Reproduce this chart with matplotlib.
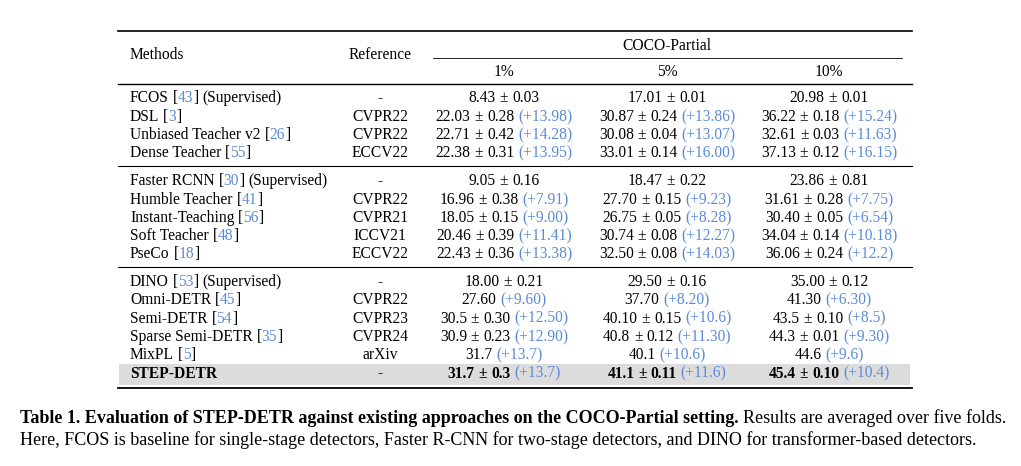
import matplotlib
matplotlib.use("Agg")
import matplotlib.pyplot as plt
from matplotlib.patches import Rectangle

# ---------------- data ----------------
methods = ["FCOS", "DSL", "Unbiased Teacher v2", "Dense Teacher",
           "Faster RCNN", "Humble Teacher", "Instant-Teaching", "Soft Teacher", "PseCo",
           "DINO", "Omni-DETR", "Semi-DETR", "Sparse Semi-DETR", "MixPL", "STEP-DETR"]
cites = ["43", "3", "26", "55",
         "30", "41", "56", "48", "18",
         "53", "45", "54", "35", "5", None]
supervised = [True, False, False, False,
              True, False, False, False, False,
              True, False, False, False, False, False]
references = ["-", "CVPR22", "CVPR22", "ECCV22",
              "-", "CVPR22", "CVPR21", "ICCV21", "ECCV22",
              "-", "CVPR22", "CVPR23", "CVPR24", "arXiv", "-"]

p1_mean = ["8.43", "22.03", "22.71", "22.38", "9.05", "16.96", "18.05", "20.46", "22.43",
           "18.00", "27.60", "30.5", "30.9", "31.7", "31.7"]
p1_std = ["0.03", "0.28", "0.42", "0.31", "0.16", "0.38", "0.15", "0.39", "0.36",
          "0.21", None, "0.30", "0.23", None, "0.3"]
p1_gain = [None, "+13.98", "+14.28", "+13.95", None, "+7.91", "+9.00", "+11.41", "+13.38",
           None, "+9.60", "+12.50", "+12.90", "+13.7", "+13.7"]

p5_mean = ["17.01", "30.87", "30.08", "33.01", "18.47", "27.70", "26.75", "30.74", "32.50",
           "29.50", "37.70", "40.10", "40.8", "40.1", "41.1"]
p5_std = ["0.01", "0.24", "0.04", "0.14", "0.22", "0.15", "0.05", "0.08", "0.08",
          "0.16", None, "0.15", "0.12", None, "0.11"]
p5_gain = [None, "+13.86", "+13.07", "+16.00", None, "+9.23", "+8.28", "+12.27", "+14.03",
           None, "+8.20", "+10.6", "+11.30", "+10.6", "+11.6"]

p10_mean = ["20.98", "36.22", "32.61", "37.13", "23.86", "31.61", "30.40", "34.04", "36.06",
            "35.00", "41.30", "43.5", "44.3", "44.6", "45.4"]
p10_std = ["0.01", "0.18", "0.03", "0.12", "0.81", "0.28", "0.05", "0.14", "0.24",
           "0.12", None, "0.10", "0.01", None, "0.10"]
p10_gain = [None, "+15.24", "+11.63", "+16.15", None, "+7.75", "+6.54", "+10.18", "+12.2",
            None, "+6.30", "+8.5", "+9.30", "+9.6", "+10.4"]

col_labels = ["1%", "5%", "10%"]
highlight = "STEP-DETR"

# ---------------- style ----------------
FONT = ["Liberation Serif", "DejaVu Serif"]
FS = 11.2
CFS = 12.95
BLACK = "#000000"
BLUE = "#5b8bd8"
W, H = 1021, 466

fig = plt.figure(figsize=(W / 100, H / 100), dpi=100)
ax = fig.add_axes([0, 0, 1, 1])
ax.set_xlim(0, W)
ax.set_ylim(H, 0)
ax.axis("off")
fig.canvas.draw()
renderer = fig.canvas.get_renderer()

_probe = ax.text(500, 200, "", family=FONT, fontsize=FS)
_cache = {}


def advance(s, size, weight):
    key = (s, size, weight)
    if key not in _cache:
        _probe.set_fontsize(size)
        _probe.set_fontweight(weight)
        _probe.set_text("H" + s + "H")
        a = _probe.get_window_extent(renderer).width
        _probe.set_text("HH")
        b = _probe.get_window_extent(renderer).width
        _cache[key] = a - b
    return _cache[key]


def runs(x, y, pieces, ha="left", size=FS):
    offsets = []
    pos = 0.0
    for s, color, weight in pieces:
        lead = len(s) - len(s.lstrip(" "))
        pos += advance(s[:lead], size, weight) if lead else 0.0
        offsets.append(pos)
        pos += advance(s[lead:], size, weight)
    total = pos
    start = x - total / 2 if ha == "center" else x
    for (s, color, weight), off in zip(pieces, offsets):
        ax.text(start + off, y, s.strip(" "), color=color, fontweight=weight,
                fontsize=size, va="baseline", ha="left", family=FONT)


X0, X1 = 118, 912
x_method = 130
x_ref = 380
x_cols = [504, 667, 829]

# rules
ax.plot([X0, X1], [31, 31], color="black", lw=1.2)
ax.plot([433, 902], [58, 58], color="black", lw=0.6)
ax.plot([X0, X1], [84, 84], color="black", lw=1.0)
ax.plot([X0, X1], [166, 166], color="black", lw=0.8)
ax.plot([X0, X1], [267, 267], color="black", lw=0.8)
ax.plot([X0, X1], [387.5, 387.5], color="black", lw=1.3)

# header
runs(x_method, 59, [("Methods", BLACK, "normal")])
runs(x_ref, 59, [("Reference", BLACK, "normal")], ha="center")
runs(667, 50.5, [("COCO-Partial", BLACK, "normal")], ha="center")
for xc, lab in zip(x_cols, col_labels):
    runs(xc, 76.5, [(lab, BLACK, "normal")], ha="center")

# body
baselines = [102.5, 121, 139, 157,
             185, 204, 222.3, 240.3, 258.5,
             286, 304.5, 322.8, 341, 359.3, 377.5]

cols = [(p1_mean, p1_std, p1_gain), (p5_mean, p5_std, p5_gain), (p10_mean, p10_std, p10_gain)]

for i, name in enumerate(methods):
    y = baselines[i]
    bold = name == highlight
    wt = "bold" if bold else "normal"
    if bold:
        ax.add_patch(Rectangle((119, 364), 791, 21, facecolor="#dcdcdc",
                               edgecolor="none", zorder=0))
    pieces = [(name, BLACK, wt)]
    if cites[i] is not None:
        pieces += [(" [", BLACK, wt), (cites[i], BLUE, wt), ("]", BLACK, wt)]
    if supervised[i]:
        pieces += [(" (Supervised)", BLACK, wt)]
    runs(x_method, y, pieces)
    runs(x_ref, y, [(references[i], BLACK, "normal")], ha="center")
    for xc, (m, s, g) in zip(x_cols, cols):
        pcs = [(m[i], BLACK, wt)]
        if s[i] is not None:
            pcs.append((" \u00b1", BLACK, wt))
            pcs.append((" " + s[i], BLACK, wt))
        if g[i] is not None:
            pcs.append((" (" + g[i] + ")", BLUE, "normal"))
        runs(xc, y, pcs, ha="center")

# caption
runs(20, 423, [("Table 1. Evaluation of STEP-DETR against existing approaches on the COCO-Partial setting.", BLACK, "bold"),
               (" Results are averaged over five folds.", BLACK, "normal")], size=CFS)
runs(20, 445, [("Here, FCOS is baseline for single-stage detectors, Faster R-CNN for two-stage detectors, and DINO for transformer-based detectors.", BLACK, "normal")], size=CFS)

_probe.remove()
fig.savefig("out.png", dpi=100)
